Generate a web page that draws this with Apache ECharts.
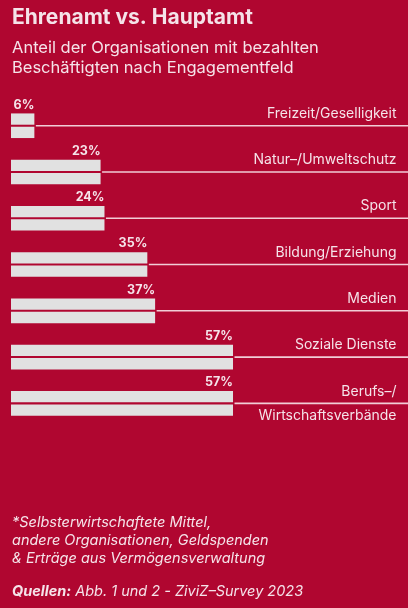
<!DOCTYPE html>
<html>
<head>
<meta charset="utf-8">
<script src="https://cdn.jsdelivr.net/npm/echarts@6/dist/echarts.min.js"></script>
<style>
html,body{margin:0;padding:0;background:#b00630;}
#c{width:408px;height:608px;}
</style>
</head>
<body>
<div id="c"></div>
<script>
const categories = ['Freizeit/Geselligkeit','Natur–/Umweltschutz','Sport','Bildung/Erziehung','Medien','Soziale Dienste','Berufs–/\nWirtschaftsverbände'];
const values = [6, 23, 24, 35, 37, 57, 57];
const titleText = 'Ehrenamt vs. Hauptamt';
const subtitleText = 'Anteil der Organisationen mit bezahlten\nBeschäftigten nach Engagementfeld';
const noteText = '*Selbsterwirtschaftete Mittel,\nandere Organisationen, Geldspenden\n& Erträge aus Vermögensverwaltung';

const BG = '#b00630';
const TXT = '#f5e3e9';
const BAR = '#e1e1e1';
const FONT = 'Inter, "DejaVu Sans", sans-serif';

const chart = echarts.init(document.getElementById('c'), null, {renderer:'canvas'});
chart.setOption({
  backgroundColor: BG,
  animation: false,
  textStyle: {fontFamily: FONT},
  grid: {left: 11, right: 7.5, top: 102.6, bottom: 181.5, containLabel: false},
  xAxis: {type: 'value', min: 0, max: 100, show: false},
  yAxis: {
    type: 'category', data: categories, inverse: true, position: 'right',
    axisLine: {show: false}, axisTick: {show: false}, splitLine: {show: false},
    axisLabel: {
      inside: true, margin: 4, color: TXT, fontSize: 14, fontFamily: FONT,
      interval: 0, showMinLabel: true, showMaxLabel: true, hideOverlap: false,
      lineHeight: 24, align: 'right', verticalAlign: 'middle',
      formatter: v => v.indexOf('\n') >= 0 ? v : v + '\n\u00a0'
    }
  },
  series: [
    {
      type: 'custom', z: 1,
      data: values.map((v, i) => [v, i]),
      renderItem: (params, api) => {
        const p = api.coord([api.value(0), api.value(1)]);
        return {
          type: 'line',
          shape: {x1: p[0] + 1.5, y1: p[1], x2: api.getWidth(), y2: p[1]},
          style: {stroke: '#f1cdd6', lineWidth: 1.6}
        };
      }
    },
    {
      type: 'bar', data: values, barWidth: 11.3, barGap: '18%', z: 2,
      itemStyle: {color: BAR},
      label: {
        show: true, position: ['100%', -2], align: 'right', verticalAlign: 'bottom',
        formatter: '{c}%', color: TXT, fontWeight: 'bold', fontSize: 12.5, fontFamily: FONT
      }
    },
    {
      type: 'bar', data: values, barWidth: 11.3, barGap: '18%', z: 2,
      itemStyle: {color: BAR}
    }
  ],
  graphic: [
    {type: 'text', left: 12, top: 7, style: {text: titleText, fill: TXT, font: 'bold 21px ' + FONT}},
    {type: 'text', left: 12, top: 38, style: {text: subtitleText, fill: TXT, font: '16.5px ' + FONT, lineHeight: 20}},
    {type: 'text', left: 12, top: 514, style: {text: noteText, fill: TXT, font: 'italic 14.5px ' + FONT, lineHeight: 18}},
    {type: 'text', left: 12, top: 584, style: {
      text: '{b|Quellen:} Abb. 1 und 2 - ZiviZ–Survey 2023', fill: TXT, font: 'italic 14.5px ' + FONT,
      rich: {b: {fontWeight: 'bold', fontStyle: 'italic', fontSize: 14.5, fontFamily: FONT, fill: TXT}}
    }}
  ]
});
</script>
</body>
</html>
